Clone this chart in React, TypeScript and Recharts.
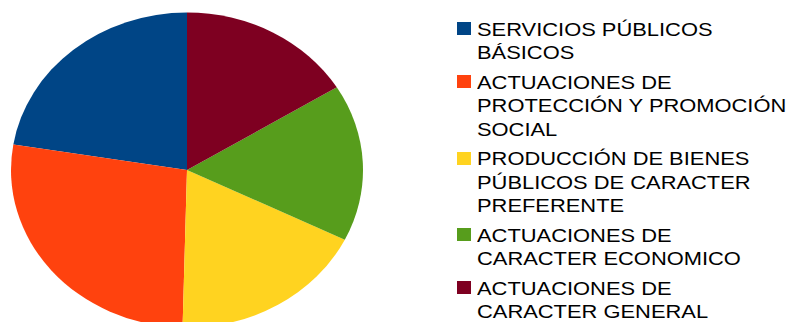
import { PieChart, Pie, Cell, Legend, Sector } from 'recharts';

const categories = [
  'SERVICIOS PÚBLICOS BÁSICOS',
  'ACTUACIONES DE PROTECCIÓN Y PROMOCIÓN SOCIAL',
  'PRODUCCIÓN DE BIENES PÚBLICOS DE CARACTER PREFERENTE',
  'ACTUACIONES DE CARACTER ECONOMICO',
  'ACTUACIONES DE CARACTER GENERAL',
];

// how the legend wraps each category
const legendLines = [
  ['SERVICIOS PÚBLICOS', 'BÁSICOS'],
  ['ACTUACIONES DE', 'PROTECCIÓN Y PROMOCIÓN', 'SOCIAL'],
  ['PRODUCCIÓN DE BIENES', 'PÚBLICOS DE CARACTER', 'PREFERENTE'],
  ['ACTUACIONES DE', 'CARACTER ECONOMICO'],
  ['ACTUACIONES DE', 'CARACTER GENERAL'],
];

const shares = [22.4, 27.2, 18.1, 16.1, 16.2];

const colors = ['#004586', '#ff420e', '#ffd320', '#579d1c', '#7e0021'];

const data = categories.map((name, i) => ({ name, value: shares[i] }));

const CX = 187;
const CY = 170;
const RX = 176;
const SQUASH = 157.5 / 176;

// the original pie is an ellipse, squash each sector vertically around the centre
function EllipseSector(props: any) {
  return (
    <g transform={`translate(0 ${props.cy * (1 - SQUASH)}) scale(1 ${SQUASH})`}>
      <Sector {...props} />
    </g>
  );
}

function LegendContent() {
  return (
    <div style={{ fontFamily: '"Liberation Sans", Arial, sans-serif', fontSize: 18.5, lineHeight: '23.5px', color: '#000' }}>
      {legendLines.map((lines, i) => (
        <div key={categories[i]} style={{ position: 'relative', paddingLeft: 20, marginBottom: 6 }}>
          <div
            style={{
              position: 'absolute',
              left: 0,
              top: 4.5,
              width: 14,
              height: 13,
              background: colors[i],
            }}
          />
          {lines.map((line) => (
            <div key={line} style={{ whiteSpace: 'nowrap', transform: 'scaleX(1.183)', transformOrigin: 'left center' }}>
              {line}
            </div>
          ))}
        </div>
      ))}
    </div>
  );
}

export default function App() {
  return (
    <div style={{ position: 'absolute', left: 0, top: 0, background: '#fff' }}>
      <PieChart width={792} height={322} margin={{ top: 0, right: 0, bottom: 0, left: 0 }}>
        <Pie
          data={data}
          dataKey="value"
          nameKey="name"
          cx={CX}
          cy={CY}
          outerRadius={RX}
          startAngle={90}
          endAngle={450}
          stroke="none"
          shape={EllipseSector}
          isAnimationActive={false}
        >
          {data.map((entry, i) => (
            <Cell key={entry.name} fill={colors[i]} />
          ))}
        </Pie>
        <Legend
          layout="vertical"
          align="right"
          verticalAlign="top"
          content={LegendContent}
          wrapperStyle={{ left: 457, top: 17.8, right: 'auto', bottom: 'auto', width: 335 }}
        />
      </PieChart>
    </div>
  );
}
